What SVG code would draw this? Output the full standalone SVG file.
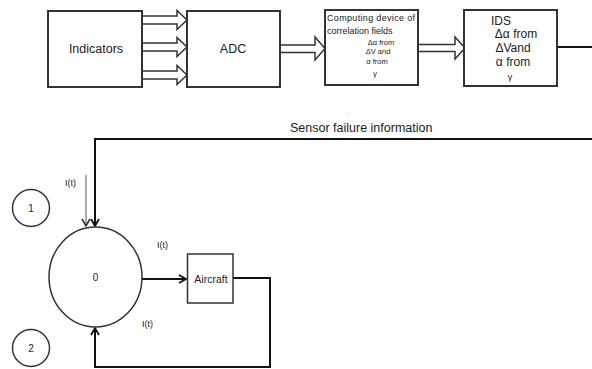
<svg xmlns="http://www.w3.org/2000/svg" width="592" height="369" viewBox="0 0 592 369">
<style>
text{font-family:"Liberation Sans",Arial,sans-serif;fill:#222}
.box{fill:#fff;stroke:#333;stroke-width:2}
.harrow{fill:#fff;stroke:#333;stroke-width:1.5;stroke-linejoin:miter}
.ln{fill:none;stroke:#111;stroke-width:2}
.thin{fill:none;stroke:#555;stroke-width:1}
.c{text-anchor:middle}
</style>
<defs>
<marker id="ah" markerWidth="10" markerHeight="10" refX="8" refY="5" orient="auto" markerUnits="userSpaceOnUse">
<path d="M1,1 L8,5 L1,9" fill="none" stroke="#111" stroke-width="1.8"/>
</marker>
<marker id="ahThin" markerWidth="10" markerHeight="10" refX="8" refY="5" orient="auto" markerUnits="userSpaceOnUse">
<path d="M1,1 L8,5 L1,9" fill="none" stroke="#333" stroke-width="1.6"/>
</marker>
</defs>
<g id="connectors">
<path class="harrow" d="M142,16 H177 V10.5 L187,20 L177,29.5 V24 H142"/>
<path class="harrow" d="M142,43 H177 V37.5 L187,47 L177,56.5 V51 H142"/>
<path class="harrow" d="M142,71 H177 V65.5 L187,75 L177,84.5 V79 H142"/>
<path class="harrow" d="M280,45 H315 V37 L325,48.5 L315,60 V52.5 H280"/>
<path class="harrow" d="M418,44.5 H455 V37 L465,48 L455,59 V51.5 H418"/>
<path class="ln" d="M557,47 H592"/>
<path class="ln" d="M592,139 H95 V226" marker-end="url(#ah)"/>
<path class="thin" d="M86,175 V226" marker-end="url(#ahThin)"/>
<path class="ln" d="M142,279 H186" marker-end="url(#ah)"/>
<path class="ln" d="M233,278 H270 V367 H95 V328" marker-end="url(#ah)"/>
</g>
<g id="indicators"><rect class="box" x="48" y="11" width="94" height="76"/><text class="c" x="96" y="53" font-size="12.5">Indicators</text></g>
<g id="adc"><rect class="box" x="187" y="11" width="93" height="76"/><text class="c" x="233" y="53" font-size="12.5">ADC</text></g>
<g id="computing">
<rect class="box" x="325" y="10" width="93" height="75"/>
<text x="327" y="21" font-size="9" textLength="88" fill="#111">Computing device of</text>
<text x="327" y="34" font-size="9" fill="#111">correlation fields</text>
<text class="c" x="381" y="45" font-size="7.5" fill="#444">Δα from</text>
<text class="c" x="378" y="54" font-size="7.5" fill="#444">ΔV and</text>
<text class="c" x="377" y="64" font-size="7.5" fill="#444">α from</text>
<text class="c" x="375" y="76" font-size="8" fill="#444">γ</text>
</g>
<g id="ids">
<rect class="box" x="464" y="10" width="93" height="76"/>
<text class="c" x="501" y="25" font-size="12" fill="#111">IDS</text>
<text class="c" x="516" y="38" font-size="12" fill="#333">Δα from</text>
<text class="c" x="513" y="52" font-size="12" fill="#333">ΔVand</text>
<text class="c" x="513" y="66" font-size="12" fill="#333">α from</text>
<text class="c" x="510" y="80" font-size="9" fill="#555">γ</text>
</g>
<text x="290" y="132" font-size="12.5" fill="#111">Sensor failure information</text>
<g id="node1"><circle cx="31" cy="208" r="18.5" fill="#fff" stroke="#333" stroke-width="1.5"/><text class="c" x="31" y="212" font-size="10" fill="#333">1</text></g>
<g id="node2"><circle cx="31" cy="348" r="18.5" fill="#fff" stroke="#333" stroke-width="1.5"/><text class="c" x="31" y="352" font-size="10" fill="#333">2</text></g>
<g id="node0"><ellipse cx="95.5" cy="277" rx="46.5" ry="50" fill="#fff" stroke="#333" stroke-width="1.5"/><text class="c" x="95.5" y="281" font-size="10" fill="#333">0</text></g>
<g id="aircraft"><rect x="187.5" y="254" width="45.5" height="49" fill="#fff" stroke="#333" stroke-width="1.5"/><text class="c" x="211" y="283" font-size="10.5" fill="#1a2a4a">Aircraft</text></g>
<text x="65" y="186" font-size="9" fill="#555">I(t)</text>
<text x="157" y="248" font-size="9" fill="#555">I(t)</text>
<text x="142" y="327" font-size="9" fill="#555">I(t)</text>
</svg>
